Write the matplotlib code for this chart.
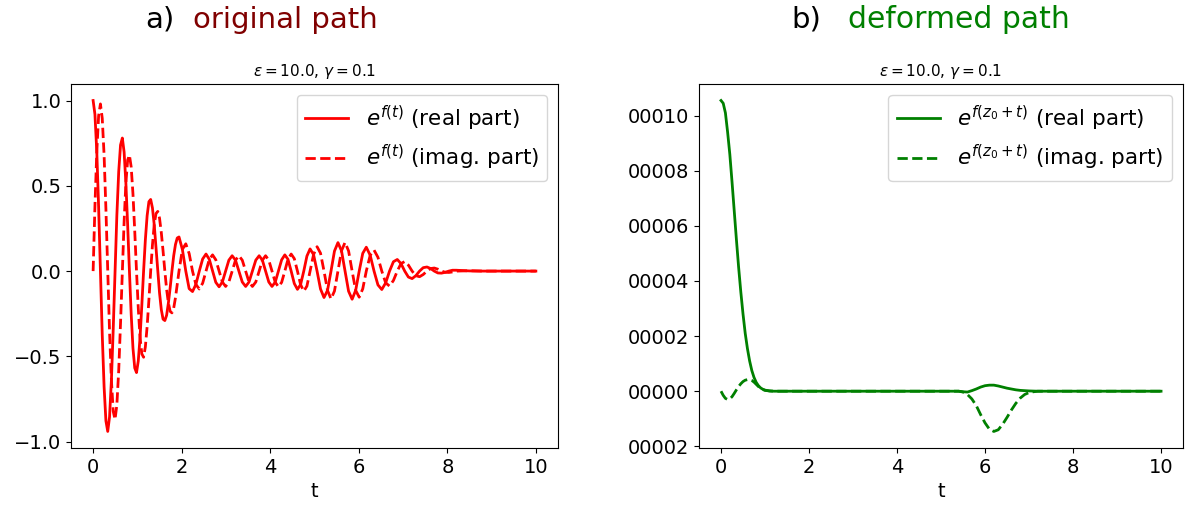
import numpy as np
import matplotlib
matplotlib.use("Agg")
import matplotlib.pyplot as plt

plt.rc('font', size=14)

# ---- panel a) original path ----
t_orig = [0.000, 0.041, 0.083, 0.124, 0.165, 0.206, 0.248, 0.289, 0.330, 0.371, 0.413, 0.454, 0.495, 0.536, 0.578, 0.619,
          0.66, 0.70, 0.74, 0.78, 0.82, 0.86, 0.90, 0.94, 0.98, 1.02, 1.06, 1.10, 1.14, 1.18, 1.22, 1.26,
          1.30, 1.34, 1.38, 1.42, 1.46, 1.50, 1.54, 1.58, 1.62, 1.66, 1.70, 1.74, 1.78, 1.82, 1.86, 1.90,
          1.940, 2.016, 2.093, 2.169, 2.245, 2.321, 2.398, 2.474,
          2.550, 2.624, 2.698, 2.771, 2.845, 2.919, 2.993, 3.066,
          3.140, 3.216, 3.293, 3.369, 3.445, 3.521, 3.598, 3.674,
          3.750, 3.823, 3.895, 3.968, 4.040, 4.113, 4.185, 4.258,
          4.330, 4.401, 4.473, 4.544, 4.615, 4.686, 4.758, 4.829,
          4.900, 4.979, 5.058, 5.136, 5.215, 5.294, 5.373, 5.451,
          5.53, 5.61, 5.69, 5.77, 5.85, 5.93, 6.01, 6.09,
          6.170, 6.258, 6.345, 6.433, 6.520, 6.608, 6.695, 6.783,
          6.870, 6.954, 7.038, 7.121, 7.205, 7.289, 7.373, 7.456,
          7.540, 7.623, 7.705, 7.788, 7.870, 7.953, 8.035, 8.118,
          8.20, 8.50, 8.80, 9.20, 9.60, 10.00]

re_orig = [1.000, 0.919, 0.700, 0.377, 0.000, -0.372, -0.679, -0.878, -0.940, -0.855, -0.640, -0.341, 0.000, 0.326, 0.583, 0.739,
           0.780, 0.698, 0.516, 0.270, 0.000, -0.253, -0.452, -0.568, -0.595, -0.527, -0.389, -0.201, 0.000, 0.184, 0.325, 0.407,
           0.420, 0.370, 0.272, 0.140, 0.000, -0.128, -0.226, -0.282, -0.290, -0.259, -0.187, -0.098, 0.000, 0.090, 0.156, 0.194,
           0.200, 0.127, 0.000, -0.103, -0.120, -0.078, 0.000, 0.071,
           0.100, 0.069, 0.000, -0.066, -0.092, -0.064, 0.000, 0.064,
           0.090, 0.064, 0.000, -0.064, -0.090, -0.064, 0.000, 0.064,
           0.090, 0.064, 0.000, -0.064, -0.090, -0.065, 0.000, 0.066,
           0.095, 0.069, 0.000, -0.073, -0.107, -0.079, 0.000, 0.088,
           0.130, 0.097, 0.000, -0.105, -0.155, -0.113, 0.000, 0.117,
           0.167, 0.119, 0.000, -0.118, -0.165, -0.113, 0.000, 0.104,
           0.140, 0.093, 0.000, -0.081, -0.108, -0.069, 0.000, 0.055,
           0.068, 0.044, 0.000, -0.035, -0.044, -0.027, 0.000, 0.020,
           0.024, 0.015, 0.000, -0.011, -0.012, -0.007, 0.000, 0.005,
           0.005, 0.001, 0.000, 0.000, 0.000, 0.000]

im_orig = [0.000, 0.381, 0.700, 0.910, 0.980, 0.896, 0.679, 0.364, 0.000, -0.354, -0.640, -0.822, -0.870, -0.785, -0.583, -0.306,
           0.000, 0.289, 0.516, 0.651, 0.680, 0.610, 0.452, 0.235, 0.000, -0.218, -0.389, -0.485, -0.505, -0.444, -0.325, -0.169,
           0.000, 0.153, 0.272, 0.337, 0.350, 0.310, 0.226, 0.117, 0.000, -0.107, -0.187, -0.236, -0.245, -0.217, -0.156, -0.080,
           0.000, 0.127, 0.160, 0.103, 0.000, -0.078, -0.105, -0.071,
           0.000, 0.069, 0.095, 0.066, 0.000, -0.064, -0.090, -0.064,
           0.000, 0.064, 0.090, 0.064, 0.000, -0.064, -0.090, -0.064,
           0.000, 0.064, 0.090, 0.064, 0.000, -0.065, -0.092, -0.066,
           0.000, 0.069, 0.100, 0.073, 0.000, -0.079, -0.118, -0.088,
           0.000, 0.097, 0.143, 0.105, 0.000, -0.113, -0.163, -0.117,
           0.000, 0.119, 0.168, 0.118, 0.000, -0.113, -0.153, -0.104,
           0.000, 0.093, 0.123, 0.081, 0.000, -0.069, -0.088, -0.055,
           0.000, 0.044, 0.056, 0.035, 0.000, -0.027, -0.033, -0.020,
           0.000, 0.015, 0.018, 0.011, 0.000, -0.007, -0.008, -0.005,
           0.000, 0.002, 0.000, 0.000, 0.000, 0.000]

ytick_vals_orig = [-1.0, -0.5, 0.0, 0.5, 1.0]
ytick_labels_orig = ["\u22121.0", "\u22120.5", "0.0", "0.5", "1.0"]

# ---- panel b) deformed path ----
t_def = [0.00, 0.05, 0.10, 0.15, 0.20, 0.25, 0.30, 0.35, 0.40, 0.45, 0.50, 0.55, 0.60, 0.65, 0.70, 0.75,
         0.80, 0.85, 0.90, 0.95, 1.00, 1.10, 1.20, 2.00, 3.00, 4.00, 5.00, 5.40,
         5.50, 5.60, 5.70, 5.80, 5.90, 6.00, 6.10, 6.20, 6.30, 6.40, 6.50, 6.60, 6.70, 6.80, 6.90, 7.00,
         7.10, 7.20, 8.00, 9.00, 10.00]

re_def = [10.55e-5, 10.45e-5, 10.10e-5, 9.40e-5, 8.60e-5, 7.60e-5, 6.55e-5, 5.50e-5, 4.50e-5, 3.60e-5, 2.80e-5, 2.10e-5,
          1.55e-5, 1.10e-5, 0.75e-5, 0.50e-5, 0.32e-5, 0.20e-5, 0.12e-5, 0.07e-5, 0.04e-5, 0.01e-5, 0.0, 0.0, 0.0, 0.0, 0.0, 0.0,
          -0.02e-5, -0.03e-5, 0.02e-5, 0.08e-5, 0.15e-5, 0.20e-5, 0.22e-5, 0.22e-5, 0.19e-5, 0.15e-5, 0.11e-5, 0.08e-5,
          0.05e-5, 0.03e-5, 0.02e-5, 0.01e-5, 0.005e-5, 0.0, 0.0, 0.0, 0.0]

im_def = [0.0, -0.15e-5, -0.26e-5, -0.30e-5, -0.28e-5, -0.20e-5, -0.08e-5, 0.05e-5, 0.17e-5, 0.27e-5, 0.35e-5, 0.40e-5,
          0.42e-5, 0.42e-5, 0.39e-5, 0.33e-5, 0.25e-5, 0.17e-5, 0.10e-5, 0.06e-5, 0.03e-5, 0.01e-5, 0.0, 0.0, 0.0, 0.0, 0.0, 0.0,
          -0.03e-5, -0.12e-5, -0.28e-5, -0.52e-5, -0.85e-5, -1.15e-5, -1.38e-5, -1.46e-5, -1.40e-5, -1.20e-5, -0.95e-5, -0.68e-5,
          -0.44e-5, -0.25e-5, -0.12e-5, -0.05e-5, -0.02e-5, 0.0, 0.0, 0.0, 0.0]

ytick_vals_def = [1e-4, 8e-5, 6e-5, 4e-5, 2e-5, 0.0, -2e-5]
ytick_labels_def = ["00010", "00008", "00006", "00004", "00002", "00000", "00002"]

xtick_vals = [0, 2, 4, 6, 8, 10]

fig = plt.figure(figsize=(11.89, 5.07), dpi=100)
ax1 = fig.add_axes([0.0597, 0.1164, 0.4096, 0.718])
ax2 = fig.add_axes([0.5879, 0.1164, 0.4071, 0.718])

ax1.plot(t_orig, re_orig, color="red", lw=2, label=r"$e^{f(t)}$ (real part)")
ax1.plot(t_orig, im_orig, color="red", lw=2, ls="--", label=r"$e^{f(t)}$ (imag. part)")
ax1.set_yticks(ytick_vals_orig)
ax1.set_yticklabels(ytick_labels_orig)
ax1.set_xlabel("t")
ax1.set_title(r"$\epsilon = 10.0$, $\gamma = 0.1$", fontsize=11)
ax1.legend(loc="upper right", fontsize=15.5)

ax2.plot(t_def, re_def, color="green", lw=2, label=r"$e^{f(z_0+t)}$ (real part)")
ax2.plot(t_def, im_def, color="green", lw=2, ls="--", label=r"$e^{f(z_0+t)}$ (imag. part)")
ax2.set_yticks(ytick_vals_def)
ax2.set_yticklabels(ytick_labels_def)
ax2.set_xlabel("t")
ax2.set_title(r"$\epsilon = 10.0$, $\gamma = 0.1$", fontsize=11)
ax2.legend(loc="upper right", fontsize=15.5)

for ax in (ax1, ax2):
    ax.set_xticks(xtick_vals)

# big panel headers, label in black and name in colour
fig.text(0.122, 0.945, "a)", fontsize=21, color="black", va="baseline")
fig.text(0.162, 0.945, "original path", fontsize=21, color="#800000", va="baseline")
fig.text(0.666, 0.945, "b)", fontsize=21, color="black", va="baseline")
fig.text(0.713, 0.945, "deformed path", fontsize=21.5, color="green", va="baseline")

fig.savefig("out.png", dpi=100)
